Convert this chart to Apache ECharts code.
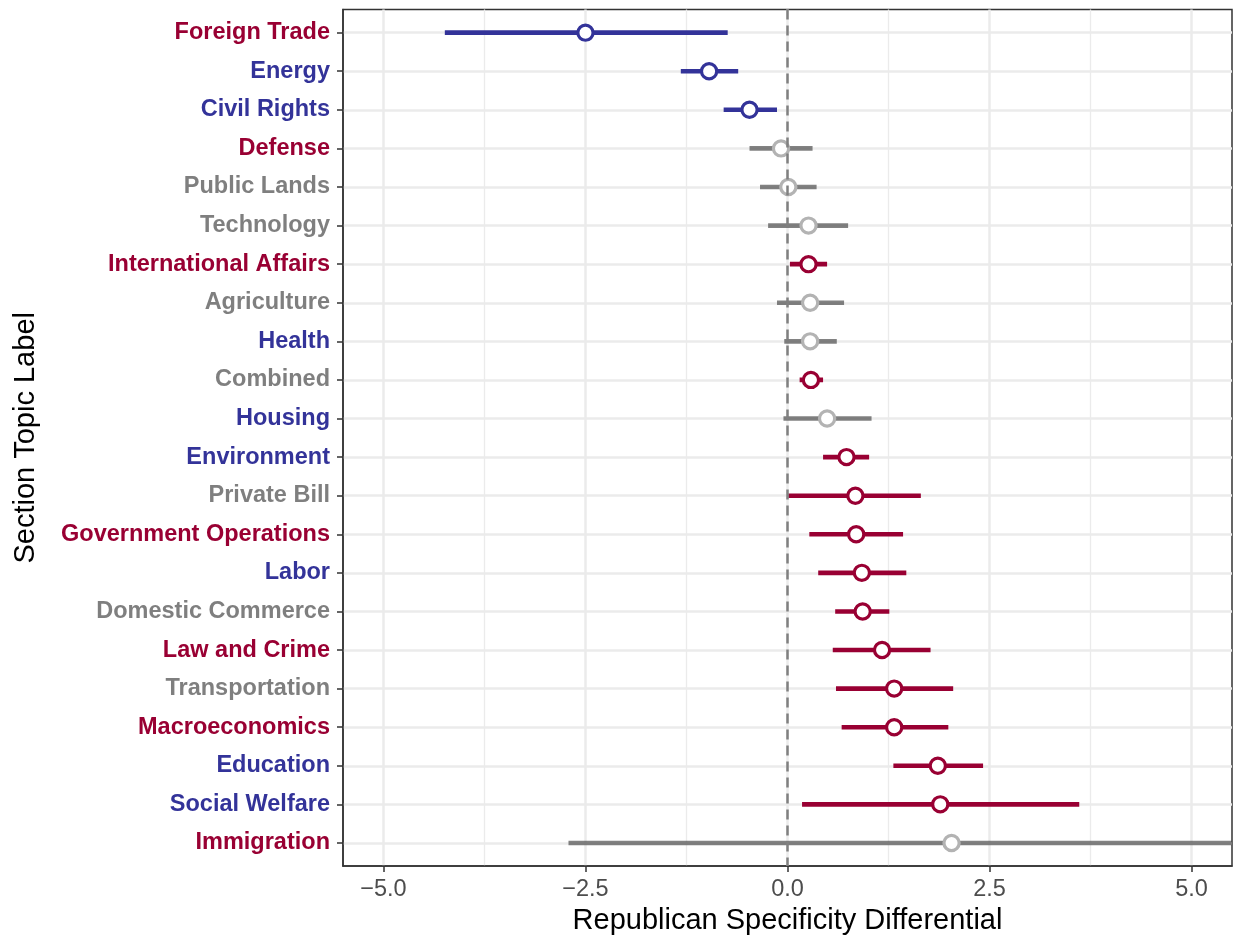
<!DOCTYPE html>
<html>
<head>
<meta charset="utf-8">
<title>Republican Specificity Differential</title>
<script src="https://cdn.jsdelivr.net/npm/echarts@6/dist/echarts.min.js"></script>
<style>
    html, body { margin: 0; padding: 0; background: #ffffff; }
    #main { width: 1236px; height: 940px; }
</style>
</head>
<body>
<div id="main"></div>
<script>
// topics, top to bottom
var topics = ["Foreign Trade", "Energy", "Civil Rights", "Defense", "Public Lands", "Technology",
    "International Affairs", "Agriculture", "Health", "Combined", "Housing", "Environment",
    "Private Bill", "Government Operations", "Labor", "Domestic Commerce", "Law and Crime",
    "Transportation", "Macroeconomics", "Education", "Social Welfare", "Immigration"];
// r = republican, d = democrat, n = neither (label colour)
var labelParty = ["r", "d", "d", "r", "n", "n", "r", "n", "d", "n", "d", "d",
    "n", "r", "d", "n", "r", "n", "r", "d", "d", "r"];
// colour of the estimate (significant side or not)
var pointParty = ["d", "d", "d", "n", "n", "n", "r", "n", "n", "r", "n", "r",
    "r", "r", "r", "r", "r", "r", "r", "r", "r", "n"];
var estimate = [-2.50, -0.97, -0.47, -0.08, 0.01, 0.26, 0.26, 0.28, 0.28, 0.29, 0.49, 0.73,
    0.84, 0.85, 0.92, 0.93, 1.17, 1.32, 1.32, 1.86, 1.89, 2.03];
var lower = [-4.24, -1.32, -0.79, -0.47, -0.34, -0.24, 0.03, -0.13, -0.04, 0.15, -0.05, 0.44,
    0.01, 0.27, 0.38, 0.59, 0.56, 0.60, 0.67, 1.31, 0.18, -2.71];
var upper = [-0.74, -0.61, -0.13, 0.31, 0.36, 0.75, 0.49, 0.70, 0.61, 0.44, 1.04, 1.01,
    1.65, 1.43, 1.47, 1.26, 1.77, 2.05, 1.99, 2.42, 3.61, 6.00];
var xTicks = [-5, -2.5, 0, 2.5, 5];
var xMinorTicks = [-3.75, -1.25, 1.25, 3.75];

var FONT = "'Liberation Sans', Arial, Helvetica, sans-serif";
var LABEL_COLORS = { r: "#990033", d: "#333399", n: "#7f7f7f" };
var LINE_COLORS = { r: "#990033", d: "#333399", n: "rgba(77,77,77,0.7)" };
var POINT_COLORS = { r: "#990033", d: "#333399", n: "#b3b3b3" };

var chart = echarts.init(document.getElementById("main"), null, { renderer: "canvas" });

var yIdx = topics.map(function (t, i) { return i; });
var rows = topics.map(function (t, i) {
    return [lower[i], upper[i], estimate[i], i];
});

var rich = {};
Object.keys(LABEL_COLORS).forEach(function (k) {
    rich[k] = { color: LABEL_COLORS[k], fontWeight: "bold", fontSize: 23.5, fontFamily: FONT };
});

function fmtX(v) {
    return v.toFixed(1).replace("-", "\u2212");
}

var option = {
    backgroundColor: "#ffffff",
    animation: false,
    grid: {
        left: 343, right: 4, top: 9.5, bottom: 72,
        show: true, borderColor: "#333333", borderWidth: 1.5, backgroundColor: "transparent"
    },
    xAxis: [{
        type: "value",
        min: -5.5, max: 5.5,
        name: "Republican Specificity Differential",
        nameLocation: "middle",
        nameGap: 39,
        nameTextStyle: { fontSize: 29, color: "#000000", fontFamily: FONT },
        axisLine: { show: true, onZero: false, lineStyle: { color: "#333333", width: 1.5 } },
        axisTick: { show: true, length: 6, customValues: xTicks, lineStyle: { color: "#333333", width: 1.5 } },
        axisLabel: {
            customValues: xTicks, margin: 11, fontSize: 23.5, color: "#4d4d4d", fontFamily: FONT,
            formatter: fmtX
        },
        splitLine: { show: true, lineStyle: { color: "#ebebeb", width: 2.5 } }
    }, {
        type: "value",
        position: "top",
        min: -5.5, max: 5.5,
        axisLine: { show: false, onZero: false },
        axisTick: { show: false, customValues: xMinorTicks },
        axisLabel: { show: false, customValues: xMinorTicks },
        splitLine: { show: true, lineStyle: { color: "#ebebeb", width: 1.3 } }
    }],
    yAxis: {
        type: "value",
        inverse: true,
        min: -0.6, max: 21.6,
        name: "Section Topic Label",
        nameLocation: "middle",
        nameGap: 303,
        nameTextStyle: { fontSize: 29, color: "#000000", fontFamily: FONT },
        axisLine: { show: true, onZero: false, lineStyle: { color: "#333333", width: 1.5 } },
        axisTick: { show: true, length: 6, customValues: yIdx, lineStyle: { color: "#333333", width: 1.5 } },
        axisLabel: {
            customValues: yIdx, margin: 13, rich: rich,
            formatter: function (v) {
                var i = Math.round(v);
                if (Math.abs(v - i) > 1e-6 || i < 0 || i >= topics.length) return "";
                return "{" + labelParty[i] + "|" + topics[i] + "}";
            }
        },
        splitLine: { show: true, lineStyle: { color: "#ebebeb", width: 2.5 } }
    },
    series: [{
        // zero reference line
        type: "line",
        data: [],
        silent: true,
        markLine: {
            silent: true,
            symbol: "none",
            label: { show: false },
            lineStyle: { color: "#808080", type: [10, 6], width: 2.5 },
            data: [{ xAxis: 0 }]
        }
    }, {
        type: "custom",
        clip: true,
        data: rows,
        encode: { x: [0, 1, 2], y: 3 },
        renderItem: function (params, api) {
            var i = api.value(3);
            var party = pointParty[i];
            var a = api.coord([api.value(0), i]);
            var b = api.coord([api.value(1), i]);
            var p = api.coord([api.value(2), i]);
            return {
                type: "group",
                children: [{
                    type: "line",
                    shape: { x1: a[0], y1: a[1], x2: b[0], y2: b[1] },
                    style: { stroke: LINE_COLORS[party], lineWidth: 4.6 }
                }, {
                    type: "circle",
                    shape: { cx: p[0], cy: p[1], r: 7.6 },
                    style: { fill: "#ffffff", stroke: POINT_COLORS[party], lineWidth: 3.2 }
                }]
            };
        }
    }]
};

chart.setOption(option);
</script>
</body>
</html>
